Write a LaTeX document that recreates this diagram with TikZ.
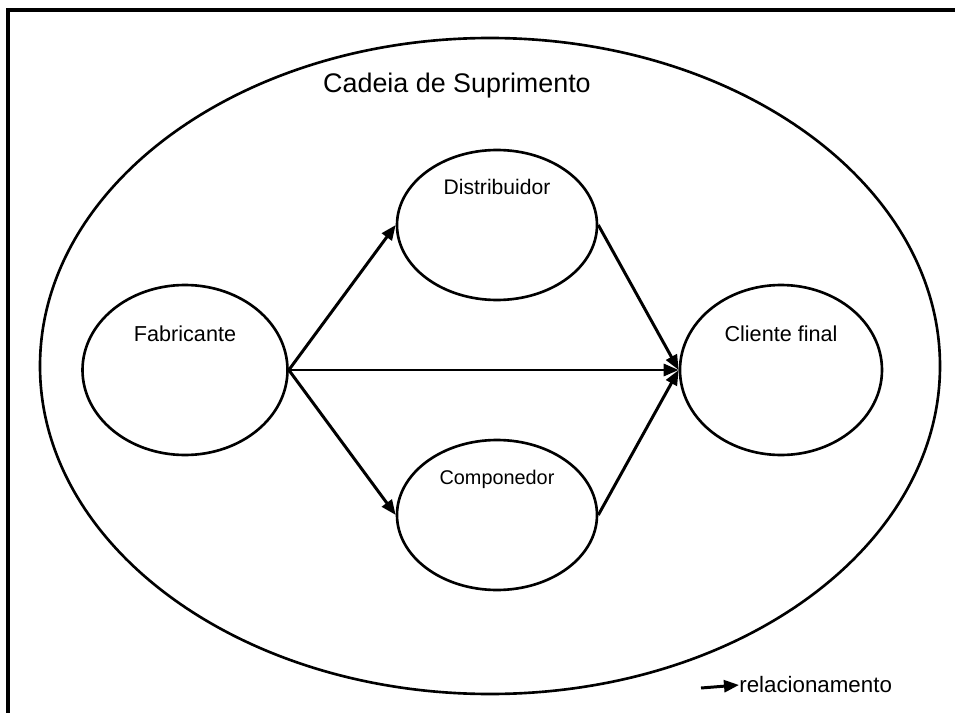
\documentclass[tikz,border=0pt]{standalone}
\usepackage{fontspec}
\setmainfont{Liberation Sans}
\usetikzlibrary{arrows.meta,shapes.geometric}

\begin{document}
\begin{tikzpicture}[x=1cm,y=1cm,
  elo/.style={draw,ellipse,line width=1.5pt,inner sep=0pt},
  rel/.style={-{Triangle[length=0.3cm,width=0.24cm]},line width=1.7pt},
  lbl/.style={font=\fontsize{12.3}{14}\selectfont,inner sep=0pt}]
\useasboundingbox (0,0) rectangle (19.1,-14.26);
\draw[line width=2pt] (0.16,-14.4) -- (0.16,-0.2) -- (19.3,-0.2);
\node[elo,minimum width=18cm,minimum height=13.12cm] (cadeia) at (9.8,-7.32) {};
\node[font=\fontsize{15.3}{18}\selectfont,inner sep=0pt] (titulo) at (9.14,-1.71) {Cadeia de Suprimento};
\node[elo,minimum width=4.1cm,minimum height=3.4cm] (fab) at (3.7,-7.4) {};
\node[elo,minimum width=4cm,minimum height=3cm] (dist) at (9.94,-4.5) {};
\node[elo,minimum width=4cm,minimum height=3cm] (comp) at (9.94,-10.3) {};
\node[elo,minimum width=4.04cm,minimum height=3.4cm] (cli) at (15.62,-7.4) {};
\node[lbl] (tfab) at ([yshift=-1cm]fab.north) {Fabricante};
\node[lbl,font=\fontsize{12}{14}\selectfont] (tdist) at ([yshift=-0.76cm]dist.north) {Distribuidor};
\node[lbl,font=\fontsize{11.3}{13}\selectfont] (tcomp) at ([yshift=-0.82cm]comp.north) {Componedor};
\node[lbl] (tcli) at ([yshift=-1cm]cli.north) {Cliente final};
\draw[rel] (fab.east) -- (dist.west);
\draw[rel] (fab.east) -- (comp.west);
\draw[rel] (fab.east) -- (cli.west);
\draw[rel] (dist.east) -- (cli.west);
\draw[rel] (comp.east) -- (cli.west);
% legenda
\coordinate (lega) at (14.02,-13.76);
\node[lbl,anchor=west,font=\fontsize{12.7}{15}\selectfont] (legt) at (14.78,-13.7) {relacionamento};
\draw[rel] (lega) -- (legt.west);
\end{tikzpicture}
\end{document}
